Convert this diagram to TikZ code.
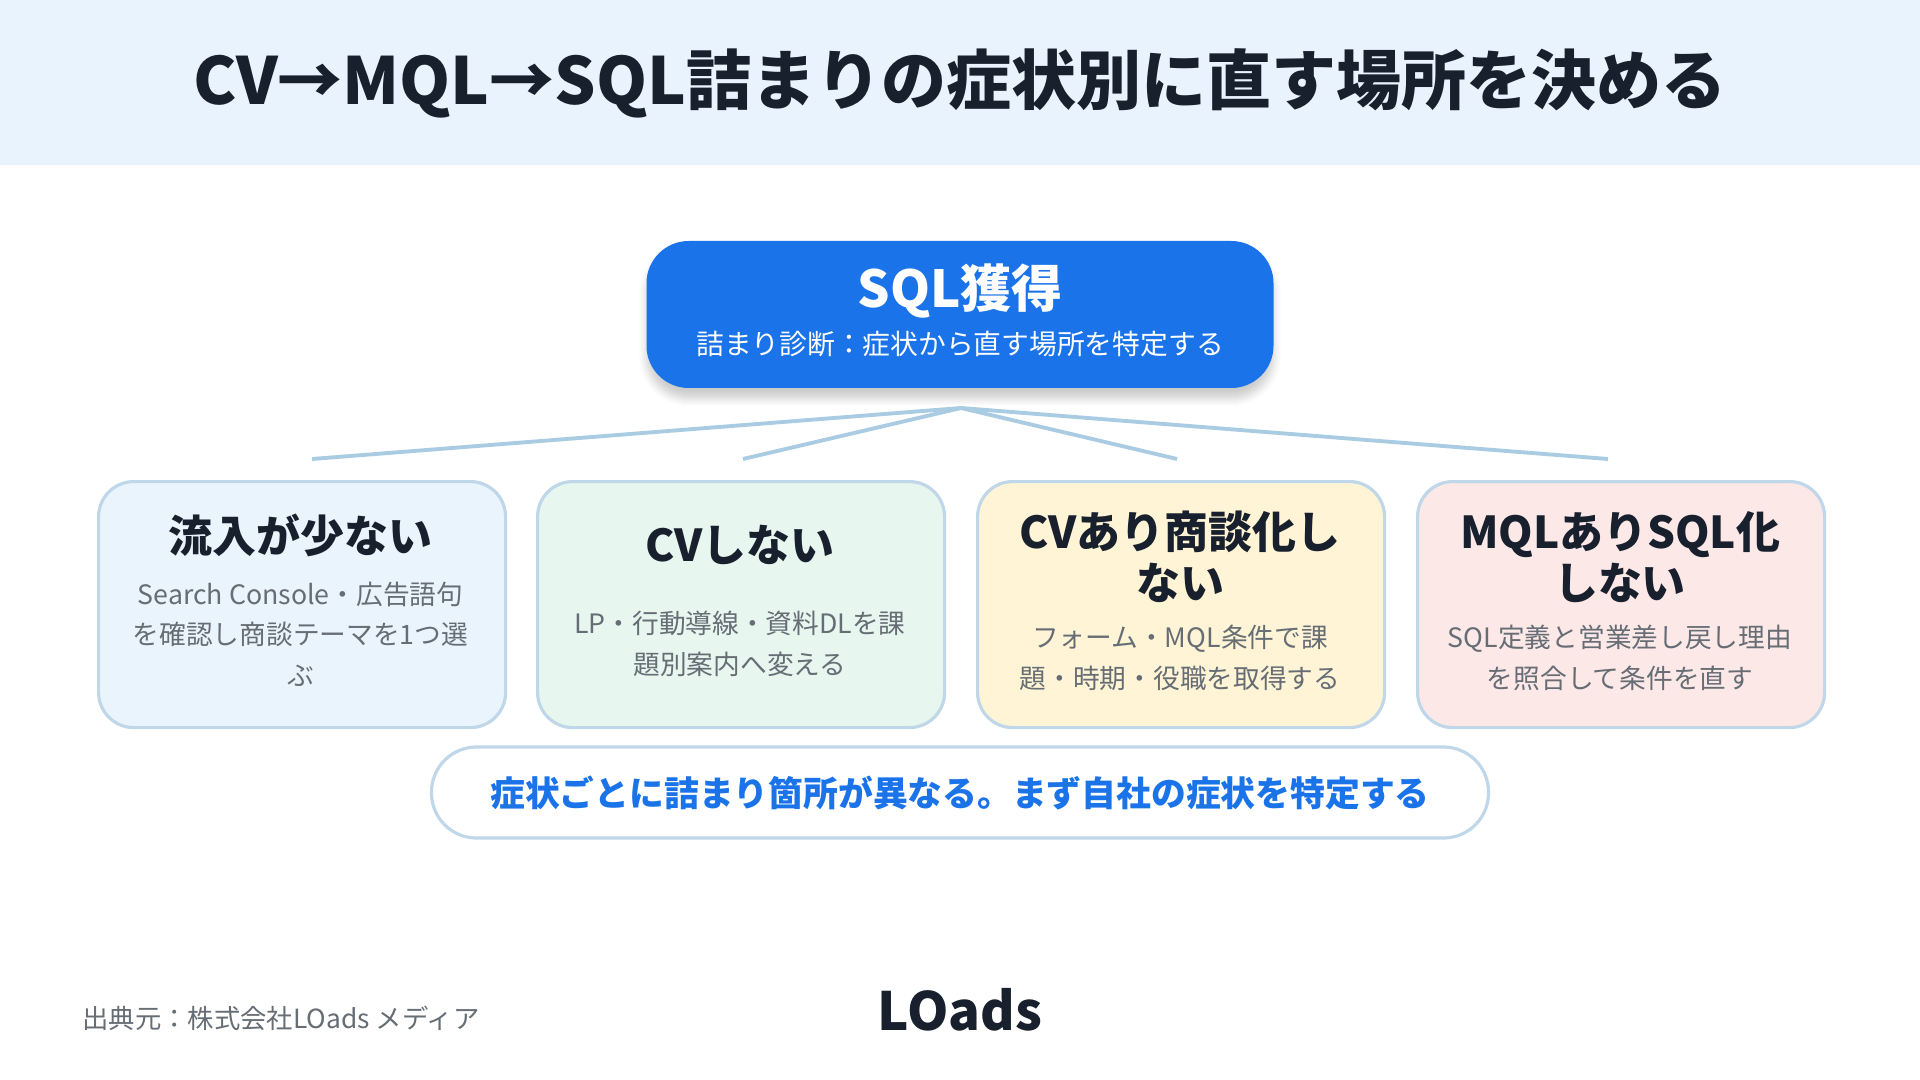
\documentclass[tikz,border=0pt]{standalone}
\usepackage{fontspec}
\setmainfont{Noto Sans CJK JP}
\usetikzlibrary{shadows.blur}
\definecolor{hdr}{HTML}{E8F3FD}
\definecolor{ink}{HTML}{17202C}
\definecolor{mainb}{HTML}{1A73E8}
\definecolor{grayt}{HTML}{666D75}
\definecolor{linec}{HTML}{A9CCE3}
\definecolor{c1}{HTML}{EAF4FD}
\definecolor{c2}{HTML}{E7F6EE}
\definecolor{c3}{HTML}{FFF5D6}
\definecolor{c4}{HTML}{FDE8E8}
\definecolor{bd}{HTML}{BFD7E8}
\tikzset{
 card/.style={draw=bd,line width=0.9pt,rounded corners=10pt,minimum width=4.07cm,minimum height=2.46cm,anchor=north west},
 ctitle/.style={font=\fontsize{12.5}{14.5}\selectfont\bfseries,text=ink,align=center},
 cbody/.style={font=\fontsize{7.6}{11.5}\selectfont,text=grayt,align=center},
 conn/.style={draw=linec,line width=1.1pt}
}
\begin{document}
\begin{tikzpicture}[x=1cm,y=1cm]
\useasboundingbox (0,0) rectangle (19.2,-10.8);
\fill[hdr] (0,0) rectangle (19.2,-1.65);
\node[font=\fontsize{18.5}{20}\selectfont\bfseries,text=ink] (title) at (9.6,-0.83) {CV→MQL→SQL詰まりの症状別に直す場所を決める};
\node[fill=mainb,rounded corners=12pt,minimum width=6.27cm,minimum height=1.47cm,blur shadow={shadow blur steps=8,shadow xshift=0pt,shadow yshift=-3pt,shadow opacity=20}] (top) at (9.6,-3.145) {};
\node[font=\fontsize{14.5}{16}\selectfont\bfseries,text=white] (topt) at (9.6,-2.91) {SQL獲得};
\node[font=\fontsize{7.9}{9}\selectfont,text=white] (tops) at (9.6,-3.44) {詰まり診断：症状から直す場所を特定する};
\coordinate (hub) at (9.61,-4.08);
\coordinate (e1) at (3.12,-4.59);
\coordinate (e2) at (7.43,-4.59);
\coordinate (e3) at (11.77,-4.59);
\coordinate (e4) at (16.08,-4.59);
\foreach \e in {e1,e2,e3,e4} \draw[conn] (hub) -- (\e);
\node[card,fill=c1] (k1) at (0.97,-4.80) {};
\node[card,fill=c2] (k2) at (5.36,-4.80) {};
\node[card,fill=c3] (k3) at (9.76,-4.80) {};
\node[card,fill=c4] (k4) at (14.16,-4.80) {};
\node[ctitle] (t1) at (3.005,-5.35) {流入が少ない};
\node[cbody] (b1) at (3.005,-6.34) {Search Console・広告語句\\を確認し商談テーマを1つ選\\ぶ};
\node[ctitle] (t2) at (7.40,-5.45) {CVしない};
\node[cbody] (b2) at (7.40,-6.44) {LP・行動導線・資料DLを課\\題別案内へ変える};
\node[ctitle] (t3) at (11.80,-5.57) {CVあり商談化し\\ない};
\node[cbody] (b3) at (11.80,-6.58) {フォーム・MQL条件で課\\題・時期・役職を取得する};
\node[ctitle] (t4) at (16.20,-5.57) {MQLありSQL化\\しない};
\node[cbody] (b4) at (16.20,-6.58) {SQL定義と営業差し戻し理由\\を照合して条件を直す};
\node[draw=bd,line width=0.9pt,fill=white,rounded corners=0.45cm,minimum width=10.57cm,minimum height=0.91cm] (pill) at (9.6,-7.925) {};
\node[font=\fontsize{9.9}{11}\selectfont\bfseries,text=mainb] (pillt) at (9.6,-7.925) {症状ごとに詰まり箇所が異なる。まず自社の症状を特定する};
\node[anchor=west,font=\fontsize{7.5}{9}\selectfont,text=grayt] (src) at (0.7,-10.18) {出典元：株式会社LOads メディア};
\node[font=\fontsize{15}{17}\selectfont\bfseries,text=ink] (logo) at (9.6,-10.1) {LOads};
\end{tikzpicture}
\end{document}
